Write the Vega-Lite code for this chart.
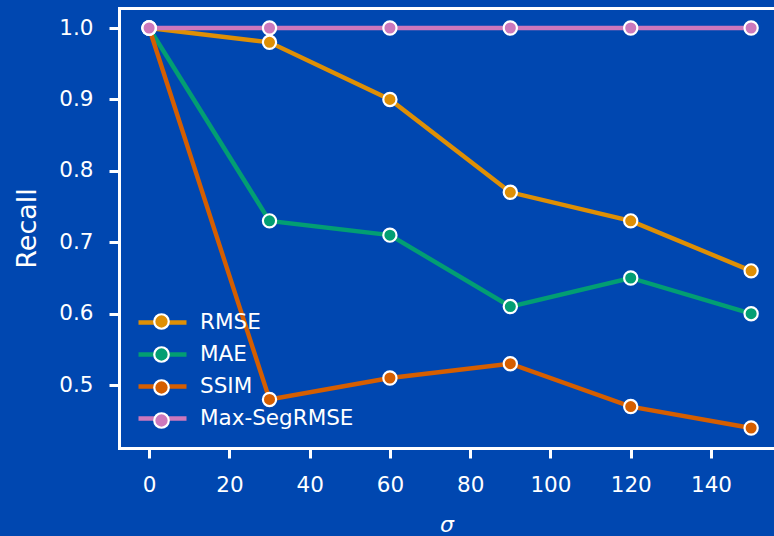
{
  "$schema": "https://vega.github.io/schema/vega-lite/v6.json",
  "width": 655,
  "height": 440,
  "autosize": {"type": "none"},
  "padding": {"left": 119, "top": 8, "right": 0, "bottom": 88},
  "background": "#0047b0",
  "config": {
    "view": {"stroke": null},
    "font": "DejaVu Sans",
    "axis": {
      "domainColor": "white",
      "domainWidth": 3,
      "domainCap": "square",
      "tickColor": "white",
      "tickWidth": 3,
      "tickSize": 10,
      "labelColor": "white",
      "labelFontSize": 21.5,
      "labelFont": "DejaVu Sans",
      "titleColor": "white",
      "titleFont": "DejaVu Sans",
      "titleFontWeight": "normal",
      "grid": false
    }
  },
  "data": {
    "values": [
      {"metric": "RMSE", "sigma": 0, "recall": 1.0},
      {"metric": "RMSE", "sigma": 30, "recall": 0.98},
      {"metric": "RMSE", "sigma": 60, "recall": 0.90},
      {"metric": "RMSE", "sigma": 90, "recall": 0.77},
      {"metric": "RMSE", "sigma": 120, "recall": 0.73},
      {"metric": "RMSE", "sigma": 150, "recall": 0.66},
      {"metric": "MAE", "sigma": 0, "recall": 1.0},
      {"metric": "MAE", "sigma": 30, "recall": 0.73},
      {"metric": "MAE", "sigma": 60, "recall": 0.71},
      {"metric": "MAE", "sigma": 90, "recall": 0.61},
      {"metric": "MAE", "sigma": 120, "recall": 0.65},
      {"metric": "MAE", "sigma": 150, "recall": 0.60},
      {"metric": "SSIM", "sigma": 0, "recall": 1.0},
      {"metric": "SSIM", "sigma": 30, "recall": 0.48},
      {"metric": "SSIM", "sigma": 60, "recall": 0.51},
      {"metric": "SSIM", "sigma": 90, "recall": 0.53},
      {"metric": "SSIM", "sigma": 120, "recall": 0.47},
      {"metric": "SSIM", "sigma": 150, "recall": 0.44},
      {"metric": "Max-SegRMSE", "sigma": 0, "recall": 1.0},
      {"metric": "Max-SegRMSE", "sigma": 30, "recall": 1.0},
      {"metric": "Max-SegRMSE", "sigma": 60, "recall": 1.0},
      {"metric": "Max-SegRMSE", "sigma": 90, "recall": 1.0},
      {"metric": "Max-SegRMSE", "sigma": 120, "recall": 1.0},
      {"metric": "Max-SegRMSE", "sigma": 150, "recall": 1.0}
    ]
  },
  "layer": [
    {
      "mark": {"type": "line", "strokeWidth": 4.4},
      "encoding": {
        "x": {
          "field": "sigma", "type": "quantitative",
          "scale": {"domain": [-7.5, 155.7], "nice": false, "zero": false},
          "axis": {"orient": "bottom", "values": [0, 20, 40, 60, 80, 100, 120, 140], "title": "σ", "titleFontStyle": "italic", "titleFontSize": 22, "labelPadding": 16, "titlePadding": 19, "labelFlush": false}
        },
        "y": {
          "field": "recall", "type": "quantitative",
          "scale": {"domain": [0.412, 1.028], "nice": false, "zero": false},
          "axis": {"orient": "left", "values": [0.5, 0.6, 0.7, 0.8, 0.9, 1.0], "format": ".1f", "title": "Recall", "titleFontSize": 27, "titlePadding": 17, "labelPadding": 16}
        },
        "stroke": {
          "field": "metric", "type": "nominal",
          "scale": {"domain": ["RMSE", "MAE", "SSIM", "Max-SegRMSE"], "range": ["#de8f05", "#029e73", "#d55e00", "#cc78bc"]},
          "legend": {
            "orient": "none", "legendX": 29, "legendY": 300, "title": null, "padding": 0,
            "symbolType": "M-2,0H-0.5M0.5,0H2", "symbolSize": 576, "symbolStrokeWidth": 4.4,
            "symbolFillColor": "transparent",
            "labelFontSize": 21.5, "labelFont": "DejaVu Sans", "labelColor": "white", "labelOffset": 23, "rowPadding": 7
          }
        }
      }
    },
    {
      "transform": [{"filter": "datum.recall >= 0"}],
      "mark": {"type": "point", "filled": true, "size": 175, "stroke": "white", "strokeWidth": 2.2, "opacity": 1},
      "encoding": {
        "x": {
          "field": "sigma", "type": "quantitative",
          "axis": {"orient": "top", "labels": false, "ticks": false, "title": null}
        },
        "y": {
          "field": "recall", "type": "quantitative",
          "axis": {"orient": "left", "values": [0.5, 0.6, 0.7, 0.8, 0.9, 1.0], "format": ".1f", "title": "Recall", "titleFontSize": 27, "titlePadding": 17, "labelPadding": 16}
        },
        "fill": {
          "field": "metric", "type": "nominal",
          "sort": ["RMSE", "MAE", "SSIM", "Max-SegRMSE"],
          "scale": {"range": ["#de8f05", "#029e73", "#d55e00", "#cc78bc"]},
          "legend": {
            "orient": "none", "legendX": 29, "legendY": 300, "title": null, "padding": 0,
            "symbolType": "M-0.604,0A0.604,0.604 0 1,0 0.604,0A0.604,0.604 0 1,0 -0.604,0Z", "symbolSize": 576,
            "symbolStrokeColor": "white", "symbolStrokeWidth": 2.2, "symbolOpacity": 1,
            "labelFontSize": 21.5, "labelFont": "DejaVu Sans", "labelColor": "white", "labelExpr": "''", "labelOffset": 23, "rowPadding": 7
          }
        }
      }
    }
  ]
}
